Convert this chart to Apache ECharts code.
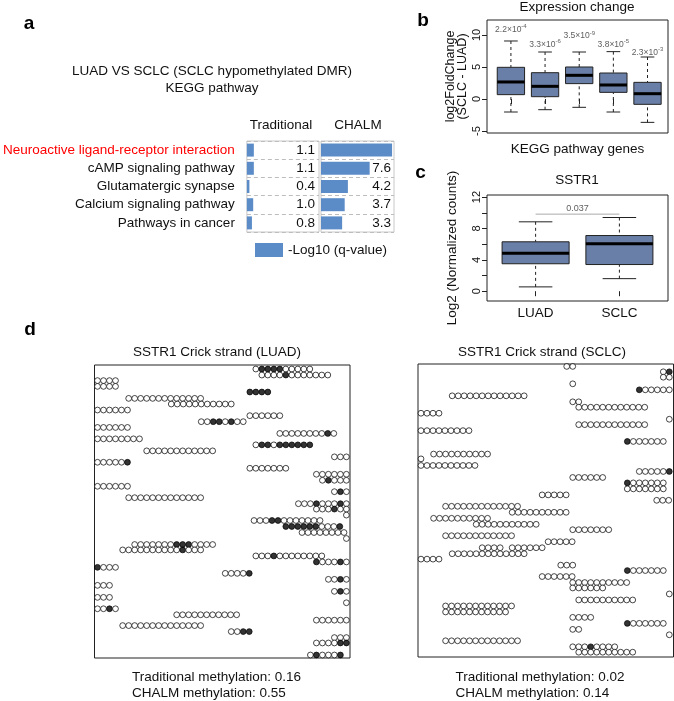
<!DOCTYPE html>
<html><head><meta charset="utf-8">
<script src="https://cdn.jsdelivr.net/npm/echarts@6/dist/echarts.min.js"></script>
<style>html,body{margin:0;padding:0;background:#fff}#c{width:674px;height:701px}</style>
</head><body><div id="c"></div>
<script>
// ---------- Panel a : KEGG pathway table ----------
const pathways = ['Neuroactive ligand-receptor interaction', 'cAMP signaling pathway', 'Glutamatergic synapse', 'Calcium signaling pathway', 'Pathways in cancer'];
const traditionalQ = [1.1, 1.1, 0.4, 1.0, 0.8];
const chalmQ = [11.1, 7.6, 4.2, 3.7, 3.3];
const highlightedPathway = 'Neuroactive ligand-receptor interaction';

// ---------- Panel b : expression change boxplots ----------
const bIndex = [1, 2, 3, 4, 5];
const bLow = [-2.03, -1.67, -1.3, -2.03, -3.65];
const bQ1 = [0.68, 0.36, 2.4, 1.04, -0.83];
const bMedian = [2.66, 1.98, 3.7, 2.19, 0.83];
const bQ3 = [4.95, 4.11, 5.0, 4.06, 2.6];
const bHigh = [9.06, 7.34, 7.34, 7.4, 6.56];
const bPMantissa = ['2.2', '3.3', '3.5', '3.8', '2.3'];
const bPExponent = ['-4', '-6', '-9', '-5', '-3'];
const bPLabelY = [10.9, 8.55, 9.9, 8.55, 7.3];
const bYTicks = [-5, 0, 5, 10];

// ---------- Panel c : SSTR1 boxplots ----------
const cGroups = ['LUAD', 'SCLC'];
const cLow = [0.55, 1.6];
const cQ1 = [3.5, 3.4];
const cMedian = [4.83, 6.04];
const cQ3 = [6.3, 7.1];
const cHigh = [8.85, 9.4];
const cPValue = '0.037';
const cPLineY = 9.83;
const cYTicks = [0, 2, 4, 6, 8, 10, 12];
const cYLabels = [0, 4, 8, 12];

// ---------- Panel d : reads [first CpG position, read row, pattern (1 = methylated)] ----------
const luadReads = [
  [26.9, 0.67, '0111100000'], [27.9, 1.67, '000010000000'], [0.5, 2.6, '0000'], [0.5, 3.56, '0000'],
  [25.9, 4.5, '1111'], [5.7, 5.56, '0000000000000'], [12.8, 6.5, '00000000000'], [0.5, 7.5, '000000'],
  [25.9, 8.44, '000000'], [17.8, 9.44, '00110100'], [0.5, 10.4, '000000'], [30.9, 11.4, '0000000010'],
  [0.5, 12.3, '00000000'], [26.9, 13.3, '0110111111'], [8.7, 14.3, '000000000000'], [40.0, 15.3, '000'],
  [0.5, 16.2, '000001'], [25.9, 17.2, '0000000'], [37.0, 18.2, '000000'], [38.0, 19.2, '01000'],
  [0.5, 20.2, '000000'], [40.0, 21.1, '010'], [5.7, 22.1, '0000000000000'], [34.0, 23.1, '000100010'],
  [37.0, 24.0, '000100'], [42.0, 25.0, '0'], [26.6, 25.9, '000110000000'], [31.9, 26.9, '1111110001'],
  [34.6, 27.9, '00000000'], [42.0, 28.9, '0'], [6.7, 29.9, '00000001110000'], [4.7, 30.8, '00000000001000'],
  [26.9, 31.8, '000100000000'], [37.0, 32.8, '100010'], [0.5, 33.7, '1000'], [21.8, 34.7, '00001'],
  [39.0, 35.7, '0010'], [0.5, 36.7, '000'], [40.0, 37.7, '010'], [0.5, 38.7, '000'],
  [42.0, 39.6, '0'], [0.5, 40.6, '0010'], [13.7, 41.6, '00000000000'], [37.0, 42.5, '000000'],
  [4.7, 43.4, '00000000000000'], [22.8, 44.4, '0011'], [40.0, 45.4, '000'], [37.0, 46.3, '000011'],
  [36.0, 48.3, '010001']
];
const sclcReads = [
  [24.8, 0.4, '00'], [40.9, 1.3, '01'], [40.9, 2.2, '00'], [25.8, 3.3, '0'],
  [36.9, 4.3, '100000'], [5.7, 5.3, '0000000000000'], [25.8, 6.3, '00'], [26.8, 7.2, '000000000000'],
  [0.5, 8.2, '0000'], [41.9, 9.2, '0'], [26.8, 10.1, '000000000000'], [0.5, 11.1, '000000000'],
  [34.9, 12.9, '1000000'], [2.6, 15.0, '0000000000'], [0.5, 15.8, '0'], [0.5, 16.9, '0000000000'],
  [36.9, 17.9, '000001'], [25.8, 18.9, '000000'], [34.9, 19.8, '1000000'], [34.9, 20.8, '0000000'],
  [20.7, 21.8, '00000'], [39.8, 22.7, '000'], [4.6, 23.7, '0000000000000'], [15.7, 24.7, '0000000000'],
  [2.6, 25.7, '0000000000'], [9.7, 26.7, '00000000000'], [25.8, 27.6, '0000000'], [4.6, 28.6, '000000000000'],
  [21.7, 29.6, '00000'], [10.7, 30.6, '0000'], [15.7, 30.6, '000000'], [5.7, 31.6, '0000000000000'],
  [0.5, 32.5, '0000'], [23.8, 33.5, '000'], [34.9, 34.4, '1000000'], [20.7, 35.4, '000000'],
  [25.8, 36.4, '0000000000'], [25.8, 37.3, '000000'], [41.9, 38.3, '0'], [26.8, 39.3, '0000000000'],
  [4.6, 40.3, '000000000000'], [4.6, 41.3, '00000000000'], [25.8, 42.2, '0000'], [34.9, 43.2, '1000000'],
  [25.8, 44.2, '00'], [41.9, 45.1, '0'], [4.6, 46.1, '0000000000000'], [25.8, 47.1, '00010000'],
  [26.8, 48.0, '0000000000']
];
const dSamples = ['LUAD', 'SCLC'];
const traditionalMethylation = [0.16, 0.02];
const chalmMethylation = [0.55, 0.14];

// ================= build chart =================
const FONT = '"Liberation Sans", Arial, Helvetica, sans-serif';
const BOX_FILL = '#6a7fa7';
const BAR_BLUE = '#5b8cc8';
const chart = echarts.init(document.getElementById('c'), null, {width: 674, height: 701});

function txt(text, x, y, size, opts) {
  opts = opts || {};
  return {type: 'text', x: x, y: y, silent: true, style: {
    text: text, font: (opts.bold ? 'bold ' : '') + size + 'px ' + FONT, fill: opts.color || '#111',
    textAlign: opts.align || 'center', textVerticalAlign: 'middle', align: opts.align || 'center', verticalAlign: 'middle'
  }};
}

function boxRenderer(halfW) {
  return function (params, api) {
    const x = api.value(0), lo = api.value(1), q1 = api.value(2), med = api.value(3), q3 = api.value(4), hi = api.value(5);
    const tl = api.coord([x - halfW, q3]), br = api.coord([x + halfW, q1]);
    const c = v => api.coord([x, v]);
    const capL = api.coord([x - halfW / 2, hi])[0], capR = api.coord([x + halfW / 2, hi])[0];
    const mL = tl[0], mR = br[0];
    const dash = {stroke: '#222', lineWidth: 1, lineDash: [3, 3]};
    const solid = {stroke: '#222', lineWidth: 1};
    return {type: 'group', children: [
      {type: 'line', shape: {x1: c(hi)[0], y1: c(hi)[1], x2: c(q3)[0], y2: c(q3)[1]}, style: dash},
      {type: 'line', shape: {x1: c(lo)[0], y1: c(lo)[1], x2: c(q1)[0], y2: c(q1)[1]}, style: dash},
      {type: 'line', shape: {x1: capL, y1: c(hi)[1], x2: capR, y2: c(hi)[1]}, style: solid},
      {type: 'line', shape: {x1: capL, y1: c(lo)[1], x2: capR, y2: c(lo)[1]}, style: solid},
      {type: 'rect', shape: {x: tl[0], y: tl[1], width: br[0] - tl[0], height: br[1] - tl[1]}, style: {fill: BOX_FILL, stroke: '#222', lineWidth: 1}},
      {type: 'line', shape: {x1: mL, y1: c(med)[1], x2: mR, y2: c(med)[1]}, style: {stroke: '#000', lineWidth: 3}}
    ]};
  };
}

function readPoints(reads) {
  const pts = [];
  reads.forEach(r => {
    for (let i = 0; i < r[2].length; i++) {
      pts.push({value: [r[0] + i, r[1]], itemStyle: {color: r[2][i] === '1' ? '#000' : '#fff'}});
    }
  });
  return pts;
}

const hidden = {show: false};
const tableCat = (gi, labels) => ({
  type: 'category', gridIndex: gi, data: pathways, inverse: true,
  axisLine: hidden, axisTick: hidden,
  axisLabel: labels ? {show: true, interval: 0, margin: 12, fontSize: 13.5, fontFamily: FONT,
    color: (v) => v === highlightedPathway ? '#ff0000' : '#111'} : {show: false},
  splitLine: {show: true, interval: 0, lineStyle: {color: '#bdbdbd', type: [4, 3], width: 1}}
});
const tableVal = (gi, vals, margin) => ({
  type: 'category', gridIndex: gi, position: 'right', data: vals.map(v => v.toFixed(1)), inverse: true,
  axisLine: hidden, axisTick: hidden, splitLine: hidden,
  axisLabel: {show: true, inside: true, interval: 0, margin: margin, fontSize: 13.5, fontFamily: FONT, color: '#111'}
});

const bBoxes = bIndex.map((x, i) => [x, bLow[i], bQ1[i], bMedian[i], bQ3[i], bHigh[i]]);
const cBoxes = cGroups.map((g, i) => [i + 1, cLow[i], cQ1[i], cMedian[i], cQ3[i], cHigh[i]]);

const option = {
  animation: false,
  textStyle: {fontFamily: FONT},
  grid: [
    {left: 246, top: 141, width: 73, height: 91, show: true, borderColor: '#c8c8c8', borderWidth: 1, containLabel: false},
    {left: 321, top: 141, width: 73, height: 91, show: true, borderColor: '#c8c8c8', borderWidth: 1},
    {left: 487, top: 20, width: 181, height: 113, show: true, borderColor: '#222', borderWidth: 1},
    {left: 487, top: 195, width: 181, height: 106, show: true, borderColor: '#222', borderWidth: 1},
    {left: 94.5, top: 365, width: 255.5, height: 293, show: true, borderColor: '#222', borderWidth: 1},
    {left: 418, top: 364, width: 255.5, height: 293, show: true, borderColor: '#222', borderWidth: 1}
  ],
  xAxis: [
    {type: 'value', gridIndex: 0, min: 0, max: 11.4, show: false},
    {type: 'value', gridIndex: 1, min: 0, max: 11.4, show: false},
    {type: 'value', gridIndex: 2, min: 0.3, max: 5.6, axisLine: hidden, splitLine: hidden,
      axisTick: {show: true, length: 5, customValues: bIndex, lineStyle: {color: '#222'}},
      axisLabel: {show: false},
      name: 'KEGG pathway genes', nameLocation: 'middle', nameGap: 9,
      nameTextStyle: {fontSize: 13.5, color: '#111', fontFamily: FONT}},
    {type: 'value', gridIndex: 3, min: 0.42, max: 2.58, axisLine: hidden, splitLine: hidden,
      axisTick: {show: true, length: 5, customValues: [1, 2], lineStyle: {color: '#222'}},
      axisLabel: {show: true, customValues: [1, 2], margin: 5, fontSize: 13.5, color: '#111',
        formatter: v => cGroups[Math.round(v) - 1]}},
    {type: 'value', gridIndex: 4, min: 0, max: 42.6, show: false},
    {type: 'value', gridIndex: 5, min: 0, max: 42.6, show: false}
  ],
  yAxis: [
    tableCat(0, true), tableVal(0, traditionalQ, 4),
    tableCat(1, false), tableVal(1, chalmQ, 3),
    {type: 'value', gridIndex: 2, min: -5.31, max: 12.34, axisLine: hidden, splitLine: hidden,
      axisTick: {show: true, length: 5, customValues: bYTicks, lineStyle: {color: '#222'}},
      axisLabel: {show: true, customValues: bYTicks, rotate: 90, margin: 5, fontSize: 11, color: '#111'},
      name: 'log2FoldChange\n(SCLC - LUAD)', nameLocation: 'middle', nameRotate: 90, nameGap: 18,
      nameTextStyle: {fontSize: 12.5, lineHeight: 12, color: '#111', fontFamily: FONT}},
    {type: 'value', gridIndex: 3, min: -1.25, max: 12.27, axisLine: hidden, splitLine: hidden,
      axisTick: {show: true, length: 5, customValues: cYTicks, lineStyle: {color: '#222'}},
      axisLabel: {show: true, customValues: cYLabels, rotate: 90, margin: 5, fontSize: 11, color: '#111'},
      name: 'Log2 (Normalized counts)', nameLocation: 'middle', nameRotate: 90, nameGap: 28,
      nameTextStyle: {fontSize: 13.5, color: '#111', fontFamily: FONT}},
    {type: 'value', gridIndex: 4, min: 0, max: 48.8, inverse: true, show: false},
    {type: 'value', gridIndex: 5, min: 0, max: 48.8, inverse: true, show: false}
  ],
  legend: {data: ['-Log10 (q-value)'], left: 255, top: 243, padding: 0, icon: 'rect', itemWidth: 28, itemHeight: 14,
    itemGap: 5, selectedMode: false, textStyle: {fontSize: 13.5, color: '#111', fontFamily: FONT}},
  series: [
    {type: 'bar', name: '-Log10 (q-value)', xAxisIndex: 0, yAxisIndex: 0, data: traditionalQ, barWidth: 13,
      itemStyle: {color: BAR_BLUE}, silent: true},
    {type: 'bar', name: '-Log10 (q-value)', xAxisIndex: 1, yAxisIndex: 2, data: chalmQ, barWidth: 13,
      itemStyle: {color: BAR_BLUE}, silent: true},
    {type: 'custom', xAxisIndex: 2, yAxisIndex: 4, data: bBoxes, renderItem: boxRenderer(0.4), silent: true,
      encode: {x: 0, y: [1, 2, 3, 4, 5]}},
    {type: 'scatter', xAxisIndex: 2, yAxisIndex: 4, symbolSize: 0.01, silent: true,
      data: bIndex.map((x, i) => ({value: [x, bPLabelY[i]], m: bPMantissa[i], e: bPExponent[i]})),
      label: {show: true, position: 'inside', color: '#333',
        formatter: p => '{m|' + p.data.m + '×10}{e|' + p.data.e + '}',
        rich: {m: {fontSize: 8.5, color: '#333', fontFamily: FONT}, e: {fontSize: 6, color: '#333', padding: [0, 0, 5, 0], fontFamily: FONT}}}},
    {type: 'custom', xAxisIndex: 3, yAxisIndex: 5, data: cBoxes, renderItem: boxRenderer(0.4), silent: true,
      encode: {x: 0, y: [1, 2, 3, 4, 5]}},
    {type: 'line', xAxisIndex: 3, yAxisIndex: 5, data: [[1, cPLineY], [2, cPLineY]], symbol: 'none', silent: true,
      lineStyle: {color: '#aaaaaa', width: 1}},
    {type: 'scatter', xAxisIndex: 3, yAxisIndex: 5, data: [[1.5, cPLineY]], symbolSize: 0.01, silent: true,
      label: {show: true, position: 'top', distance: 1, formatter: cPValue, fontSize: 9, color: '#333'}},
    {type: 'scatter', xAxisIndex: 4, yAxisIndex: 6, data: readPoints(luadReads), symbol: 'circle', symbolSize: 5.8,
      silent: true, itemStyle: {borderColor: '#000', borderWidth: 0.9}},
    {type: 'scatter', xAxisIndex: 5, yAxisIndex: 7, data: readPoints(sclcReads), symbol: 'circle', symbolSize: 5.8,
      silent: true, itemStyle: {borderColor: '#000', borderWidth: 0.9}}
  ],
  graphic: [
    txt('a', 29, 24, 19, {bold: true, color: '#000'}),
    txt('b', 423, 21, 19, {bold: true, color: '#000'}),
    txt('c', 420.5, 173, 19, {bold: true, color: '#000'}),
    txt('d', 30, 329.5, 19, {bold: true, color: '#000'}),
    txt('LUAD VS SCLC (SCLC hypomethylated DMR)', 212, 71, 13.5),
    txt('KEGG pathway', 212, 88, 13.5),
    txt('Traditional', 281, 125, 13.5),
    txt('CHALM', 358, 125, 13.5),
    txt('Expression change', 577, 7, 13.5),
    txt('SSTR1', 577, 180, 13.5),
    txt('SSTR1 Crick strand (' + dSamples[0] + ')', 217, 352, 13.5),
    txt('SSTR1 Crick strand (' + dSamples[1] + ')', 542, 352, 13.5),
    txt('Traditional methylation: ' + traditionalMethylation[0].toFixed(2), 132, 677, 13.5, {align: 'left'}),
    txt('CHALM methylation: ' + chalmMethylation[0].toFixed(2), 132, 693.5, 13.5, {align: 'left'}),
    txt('Traditional methylation: ' + traditionalMethylation[1].toFixed(2), 455.5, 677, 13.5, {align: 'left'}),
    txt('CHALM methylation: ' + chalmMethylation[1].toFixed(2), 455.5, 693.5, 13.5, {align: 'left'})
  ]
};
chart.setOption(option);
</script></body></html>
